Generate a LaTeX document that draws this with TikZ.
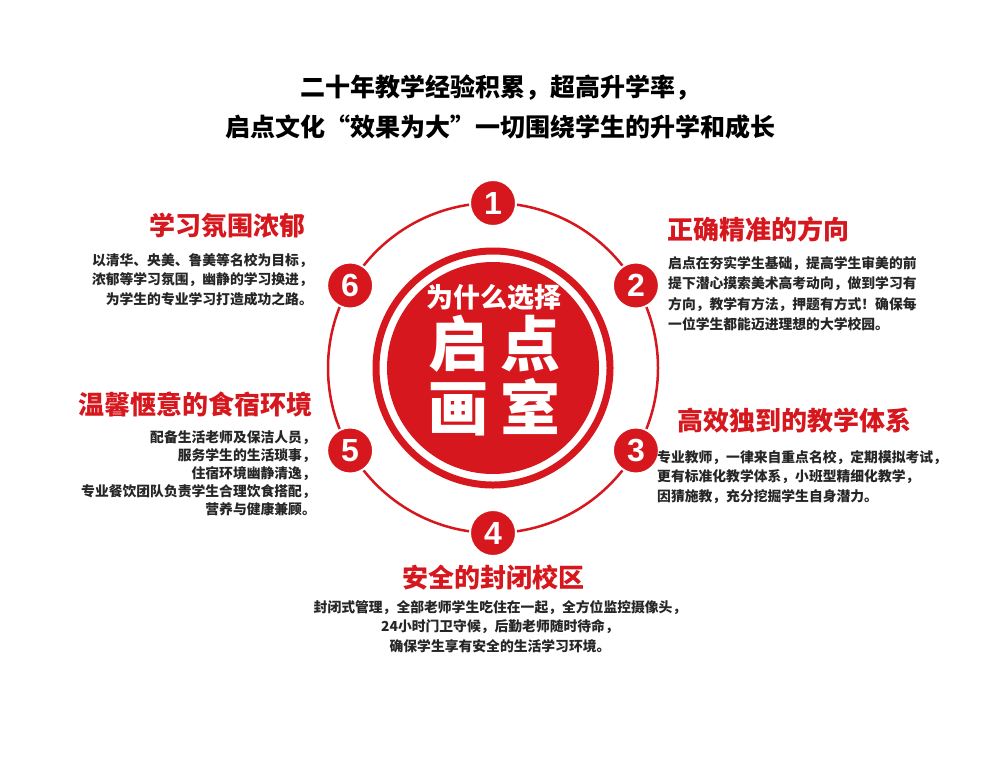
\documentclass[tikz,border=0pt]{standalone}
\usepackage{fontspec}
\usetikzlibrary{calc}
\setmainfont{Noto Sans CJK SC}
\newfontfamily\numf{Liberation Sans}
\definecolor{qred}{RGB}{214,24,30}
\begin{document}
\begin{tikzpicture}[x=1pt,y=-1pt,
  num/.style={circle,fill=qred,draw=white,line width=2pt,minimum size=46pt,inner sep=0pt,text=white,font=\numf\bfseries\fontsize{32}{32}\selectfont},
  head/.style={text=qred,font=\bfseries\fontsize{26}{30}\selectfont,inner sep=0pt},
  body/.style={text=black!85,font=\bfseries\fontsize{13.8}{19.5}\selectfont,inner sep=0pt},
  big/.style={text=white,font=\bfseries\fontsize{60}{60}\selectfont,inner sep=0pt},
  ttl/.style={font=\bfseries\fontsize{25}{40}\selectfont,inner sep=0pt,align=center}]
\useasboundingbox (0,0) rectangle (1000,777);
\fill[white] (0,0) rectangle (1000,777);
\coordinate (c) at (493,368);
\node[ttl] (t) at (500,107) {二十年教学经验积累，超高升学率，\\启点文化“效果为大”一切围绕学生的升学和成长};
\draw[qred,line width=2.5pt] (c) circle[radius=165];
\draw[qred,line width=7pt] (c) circle[radius=117];
\fill[qred] (c) circle[radius=106];
\node[text=white,font=\bfseries\fontsize{27}{27}\selectfont,inner sep=0pt] (w) at (494,297) {为什么选择};
\node[big] (q) at (494,344) {启\hspace{12pt}点};
\node[big] (h) at (494,407) {画\hspace{12pt}室};
\foreach \n/\a in {1/90,2/30,3/-30,4/-90,5/210,6/150}
  \node[num] (n\n) at ($(c)+({165*cos(\a)},{-165*sin(\a)})$) {\n};
\node[head,anchor=east] (h6) at (306,226) {学习氛围浓郁};
\node[body,anchor=north east,align=right] (b6) at (313,253) {以清华、央美、鲁美等名校为目标，\\浓郁等学习氛围，幽静的学习换进，\\为学生的专业学习打造成功之路。};
\node[head,anchor=east] (h5) at (313,404) {温馨惬意的食宿环境};
\node[body,anchor=north east,align=right,font=\bfseries\fontsize{13.8}{18}\selectfont] (b5) at (316,430) {配备生活老师及保洁人员，\\服务学生的生活琐事，\\住宿环境幽静清逸，\\专业餐饮团队负责学生合理饮食搭配，\\营养与健康兼顾。};
\node[head,anchor=west] (h2) at (667,229) {正确精准的方向};
\node[body,anchor=north west,align=left,font=\bfseries\fontsize{13.8}{20.5}\selectfont] (b2) at (668,256) {启点在夯实学生基础，提高学生审美的前\\提下潜心摸索美术高考动向，做到学习有\\方向，教学有方法，押题有方式！确保每\\一位学生都能迈进理想的大学校园。};
\node[head,anchor=west] (h3) at (677,421) {高效独到的教学体系};
\node[body,anchor=north west,align=left] (b3) at (657,450) {专业教师，一律来自重点名校，定期模拟考试，\\更有标准化教学体系，小班型精细化教学，\\因猜施教，充分挖掘学生自身潜力。};
\node[head] (h4) at (493,578) {安全的封闭校区};
\node[body,anchor=north,align=center] (b4) at (500,600) {封闭式管理，全部老师学生吃住在一起，全方位监控摄像头，\\24小时门卫守候，后勤老师随时待命，\\确保学生享有安全的生活学习环境。};
\end{tikzpicture}
\end{document}
